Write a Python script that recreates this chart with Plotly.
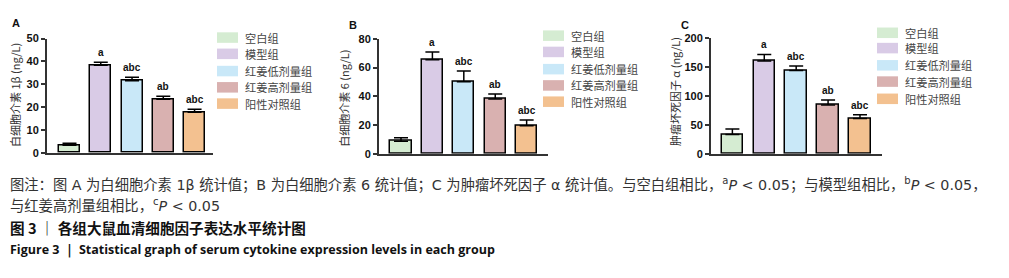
import plotly.graph_objects as go

W, H = 1009, 278

groups = ["空白组", "模型组", "红姜低剂量组", "红姜高剂量组", "阳性对照组"]
colors = ["#d5ecd2", "#d9cbe6", "#c9e8f8", "#d9b1b0", "#f3c190"]

vals_A = [3.3, 38.3, 31.5, 23.5, 17.8]
err_A = [0.9, 1.3, 1.6, 1.3, 1.3]
vals_B = [8.8, 65.5, 50.2, 38.2, 19.6]
err_B = [2.4, 5.3, 7.4, 3.5, 4.0]
vals_C = [33.5, 160.0, 143.5, 84.0, 61.0]
err_C = [9.5, 11.5, 8.0, 9.0, 6.5]
sig = ["", "a", "abc", "ab", "abc"]

ytitles = ["白细胞介素 1β (ng/L)", "白细胞介素 6 (ng/L)", "肿瘤坏死因子 α (ng/L)"]
ymax = [50, 80, 200]
dticks = [10, 20, 50]
panel_labels = ["A", "B", "C"]

# pixel geometry for each panel
geo = [
    (47, 213, 153.5, 34.0, [-0.72, 4.59]),
    (379, 548, 154.5, 34.3, [-0.70, 4.68]),
    (711, 882, 154.5, 33.3, [-0.67, 4.69]),
]
legend_geo = [
    (217, [33, 50, 68, 85, 102]),
    (543, [31, 48, 66, 83, 100]),
    (877, [28, 44, 62, 79, 97]),
]
ytitle_pos = [(15, 93), (344, 97), (675, 90)]
label_pos = [(16, 18), (353, 20), (685, 20)]

def px(x):
    return x / W

def py(y):
    return 1 - y / H

fig = go.Figure()
data = [(vals_A, err_A), (vals_B, err_B), (vals_C, err_C)]
annotations = []
shapes = []
for i, (vals, errs) in enumerate(data):
    xa = "x" if i == 0 else f"x{i+1}"
    ya = "y" if i == 0 else f"y{i+1}"
    fig.add_trace(go.Bar(
        x=list(range(len(groups))), y=vals, width=0.67,
        marker=dict(color=colors, line=dict(color="black", width=1.5)),
        error_y=dict(type="data", symmetric=False, array=errs,
                     arrayminus=[0]*len(errs), color="black", thickness=1.5, width=7),
        xaxis=xa, yaxis=ya, showlegend=False, hoverinfo="skip",
    ))
    yax0, xend, yb, yt, xr = geo[i]
    axkey = "xaxis" if i == 0 else f"xaxis{i+1}"
    aykey = "yaxis" if i == 0 else f"yaxis{i+1}"
    fig.layout[axkey] = dict(
        domain=[px(yax0), px(xend)], range=xr, showticklabels=False,
        ticks="", showgrid=False, zeroline=False, showline=True,
        linecolor="#333", linewidth=2, anchor=ya, fixedrange=True,
    )
    fig.layout[aykey] = dict(
        domain=[py(yb), py(yt)], range=[0, ymax[i]], dtick=dticks[i],
        showgrid=False, zeroline=False, showline=True, linecolor="#333",
        linewidth=2, ticks="outside", ticklen=4, tickwidth=1.5, tickcolor="#333",
        tickfont=dict(family="Liberation Sans", size=11, color="#111", weight="bold"),
        anchor=xa, fixedrange=True,
    )
    for j, s in enumerate(sig):
        if s:
            annotations.append(dict(
                x=j, y=vals[j] + errs[j], xref=xa, yref=ya, text=f"<b>{s}</b>",
                showarrow=False, yanchor="bottom", yshift=2,
                font=dict(family="Liberation Sans", size=10, color="#111"),
            ))
    tx, ty = ytitle_pos[i]
    annotations.append(dict(
        x=px(tx), y=py(ty), xref="paper", yref="paper", text=ytitles[i],
        textangle=-90, showarrow=False, xanchor="center", yanchor="middle",
        font=dict(family="Noto Sans CJK SC", size=11, color="#333"),
    ))
    lx, ly = label_pos[i]
    annotations.append(dict(
        x=px(lx), y=py(ly), xref="paper", yref="paper", text=f"<b>{panel_labels[i]}</b>",
        showarrow=False, xanchor="center", yanchor="middle",
        font=dict(family="Liberation Sans", size=11, color="#111"),
    ))
    sx, rows = legend_geo[i]
    for k, g in enumerate(groups):
        cy = rows[k]
        shapes.append(dict(
            type="rect", xref="paper", yref="paper",
            x0=px(sx), x1=px(sx + 21), y0=py(cy + 5.5), y1=py(cy - 5.5),
            fillcolor=colors[k], line=dict(width=0),
        ))
        annotations.append(dict(
            x=px(sx + 26), y=py(cy), xref="paper", yref="paper", text=g,
            showarrow=False, xanchor="left", yanchor="middle",
            font=dict(family="Noto Sans CJK SC", size=11.2, color="#444"),
        ))

cap_font = "DejaVu Sans, Noto Sans CJK SC"
captions = [
    (187, "图注：图 A 为白细胞介素 1β 统计值；B 为白细胞介素 6 统计值；C 为肿瘤坏死因子 α 统计值。与空白组相比，<sup>a</sup><i>P</i> &lt; 0.05；与模型组相比，<sup>b</sup><i>P</i> &lt; 0.05，",
     dict(family=cap_font, size=14.3, color="#333")),
    (208, "与红姜高剂量组相比，<sup>c</sup><i>P</i> &lt; 0.05",
     dict(family=cap_font, size=14.3, color="#333")),
    (232, "<b>图 3 ｜ 各组大鼠血清细胞因子表达水平统计图</b>",
     dict(family="Noto Sans CJK SC", size=14.6, color="#111")),
    (254, "<b>Figure 3 ｜ Statistical graph of serum cytokine expression levels in each group</b>",
     dict(family="Open Sans", size=12.5, color="#111")),
]
for y, t, f in captions:
    annotations.append(dict(
        x=px(8), y=py(y), xref="paper", yref="paper", text=t, showarrow=False,
        xanchor="left", yanchor="middle", font=f,
    ))

fig.update_layout(
    width=W, height=H, margin=dict(l=0, r=0, t=0, b=0),
    paper_bgcolor="white", plot_bgcolor="white",
    annotations=annotations, shapes=shapes, bargap=0,
)
fig.write_html("out.html", config={"displayModeBar": False},
               post_script="document.body.style.margin='0';document.body.style.overflow='hidden';")
